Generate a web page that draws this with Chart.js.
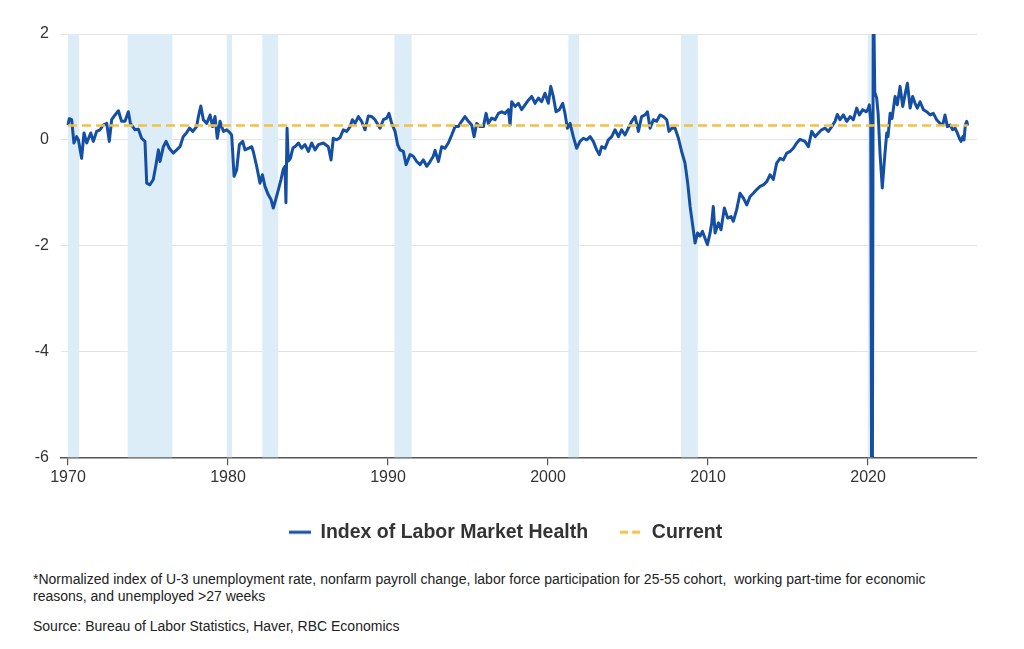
<!DOCTYPE html>
<html>
<head>
<meta charset="utf-8">
<script src="https://cdn.jsdelivr.net/npm/chart.js@4.4.1/dist/chart.umd.min.js"></script>
<style>
  html, body { margin: 0; padding: 0; background: #fff; }
  body { width: 1024px; height: 649px; position: relative; overflow: hidden; font-family: "Liberation Sans", Arial, sans-serif; }
  #wrap { position: absolute; left: 0; top: 0; width: 1024px; height: 560px; }
  .note { position: absolute; left: 33px; font-size: 14px; line-height: 17px; color: #222; white-space: nowrap; }
</style>
</head>
<body>
<div id="wrap"><canvas id="chart" width="1024" height="560"></canvas></div>
<div class="note" style="top:571px">*Normalized index of U-3 unemployment rate, nonfarm payroll change, labor force participation for 25-55 cohort,&nbsp; working part-time for economic<br>reasons, and unemployed &gt;27 weeks</div>
<div class="note" style="top:618px">Source: Bureau of Labor Statistics, Haver, RBC Economics</div>
<script>
// dates are decimal years
const dates70 = [1970.00,1970.08,1970.23,1970.37,1970.54,1970.65,1970.85,1971.00,1971.17,1971.42,1971.58,1971.79,1972.00,1972.20,1972.42,1972.58,1972.73,1972.94,1973.15,1973.35,1973.56,1973.77,1973.90,1974.19,1974.40,1974.60,1974.81,1974.92,1975.12,1975.33,1975.50,1975.65,1975.75,1975.96,1976.13,1976.33,1976.58,1976.79,1977.00,1977.20,1977.40,1977.60,1977.80,1978.04,1978.15,1978.30,1978.46,1978.67,1978.88,1979.04,1979.19,1979.33,1979.50,1979.71,1979.92];
const index70 = [0.28,0.40,0.38,-0.06,0.06,0.00,-0.35,0.13,-0.06,0.13,-0.03,0.16,0.19,0.28,0.31,-0.03,0.38,0.47,0.55,0.35,0.35,0.53,0.31,0.19,0.20,0.03,-0.03,-0.82,-0.85,-0.75,-0.47,-0.19,-0.41,-0.13,-0.03,-0.16,-0.25,-0.19,-0.13,0.06,0.13,0.22,0.16,0.25,0.44,0.64,0.38,0.31,0.47,0.25,0.44,0.03,0.35,0.16,0.19];

const dates80 = [1980.13,1980.23,1980.38,1980.54,1980.71,1980.92,1981.06,1981.27,1981.48,1981.58,1981.79,1982.00,1982.15,1982.31,1982.52,1982.69,1982.83,1982.98,1983.15,1983.31,1983.46,1983.56,1983.62,1983.69,1983.77,1983.90,1984.06,1984.19,1984.40,1984.60,1984.81,1985.02,1985.23,1985.44,1985.65,1985.96,1986.27,1986.44,1986.58,1986.79,1987.00,1987.21,1987.42,1987.63,1987.77,1987.94,1988.15,1988.35,1988.56,1988.77,1988.98,1989.19,1989.50,1989.71,1989.92];
const index80 = [0.13,0.09,-0.69,-0.57,-0.09,-0.03,-0.19,-0.16,-0.13,-0.22,-0.50,-0.82,-0.66,-0.88,-1.04,-1.13,-1.29,-1.13,-0.94,-0.75,-0.55,-0.50,-1.19,0.22,-0.40,-0.35,-0.15,-0.13,-0.06,-0.16,-0.09,-0.22,-0.06,-0.19,-0.09,-0.06,-0.13,-0.38,0.03,0.00,0.04,0.19,0.16,0.25,0.38,0.31,0.44,0.35,0.19,0.45,0.44,0.38,0.22,0.38,0.41];

const dates90 = [1990.06,1990.23,1990.44,1990.60,1990.75,1990.96,1991.13,1991.38,1991.58,1991.79,1992.00,1992.21,1992.42,1992.63,1992.83,1992.94,1993.15,1993.35,1993.56,1993.77,1993.98,1994.19,1994.40,1994.60,1994.81,1995.02,1995.23,1995.38,1995.54,1995.75,1995.96,1996.13,1996.27,1996.48,1996.69,1996.90,1997.10,1997.31,1997.52,1997.63,1997.73,1997.94,1998.15,1998.35,1998.56,1998.77,1998.98,1999.19,1999.40,1999.60,1999.81];
const index90 = [0.50,0.31,0.16,-0.09,-0.19,-0.22,-0.47,-0.28,-0.31,-0.41,-0.47,-0.38,-0.50,-0.41,-0.31,-0.20,-0.41,-0.13,-0.16,-0.06,0.09,0.25,0.25,0.35,0.44,0.35,0.28,0.06,0.31,0.25,0.25,0.50,0.31,0.41,0.38,0.50,0.53,0.50,0.57,0.28,0.72,0.63,0.69,0.57,0.66,0.75,0.82,0.69,0.79,0.72,0.88];

const dates00 = [2000.02,2000.17,2000.33,2000.50,2000.71,2000.92,2001.06,2001.21,2001.38,2001.58,2001.79,2002.00,2002.21,2002.42,2002.63,2002.83,2003.04,2003.21,2003.35,2003.56,2003.77,2003.98,2004.19,2004.40,2004.60,2004.81,2005.02,2005.23,2005.44,2005.65,2005.85,2006.06,2006.21,2006.38,2006.58,2006.79,2007.00,2007.21,2007.42,2007.56,2007.73,2007.94,2008.15,2008.35,2008.56,2008.73,2008.88,2009.02,2009.19,2009.35,2009.50,2009.65,2009.81,2009.96];
const index00 = [0.69,1.01,0.82,0.53,0.57,0.69,0.50,0.22,0.31,0.06,-0.16,-0.03,0.03,0.00,0.06,-0.03,-0.19,-0.28,-0.13,-0.16,0.00,0.06,0.19,0.06,0.19,0.09,0.22,0.35,0.44,0.16,0.44,0.47,0.53,0.22,0.38,0.35,0.47,0.44,0.38,0.16,0.22,0.22,0.03,-0.22,-0.44,-0.82,-1.26,-1.57,-1.95,-1.76,-1.82,-1.73,-1.86,-1.98];

const dates10 = [2010.13,2010.23,2010.33,2010.44,2010.65,2010.81,2011.02,2011.23,2011.44,2011.58,2011.79,2012.00,2012.21,2012.42,2012.63,2012.83,2013.04,2013.25,2013.46,2013.67,2013.88,2014.08,2014.29,2014.50,2014.71,2014.92,2015.13,2015.33,2015.54,2015.75,2016.06,2016.27,2016.48,2016.69,2016.90,2017.10,2017.31,2017.52,2017.73,2017.94,2018.08,2018.25,2018.46,2018.67,2018.88,2019.08,2019.29,2019.46,2019.67,2019.88];
const index10 = [-1.76,-1.57,-1.26,-1.76,-1.57,-1.70,-1.29,-1.48,-1.45,-1.54,-1.32,-1.01,-1.10,-1.23,-1.07,-1.01,-0.94,-0.88,-0.85,-0.79,-0.66,-0.75,-0.44,-0.35,-0.38,-0.25,-0.22,-0.16,-0.06,0.01,-0.03,-0.13,0.16,0.06,0.13,0.19,0.22,0.16,0.25,0.35,0.48,0.38,0.47,0.35,0.44,0.38,0.60,0.47,0.57,0.53];

const dates20 = [2020.00,2020.08,2020.17,2020.25,2020.33,2020.42,2020.54,2020.63,2020.75,2020.89,2021.06,2021.17,2021.25,2021.38,2021.50,2021.69,2021.83,2022.00,2022.17,2022.31,2022.46,2022.63,2022.79,2022.94,2023.08,2023.25,2023.46,2023.67,2023.88,2024.08,2024.29,2024.50,2024.67,2024.81,2024.96,2025.13,2025.29,2025.44,2025.58,2025.71,2025.81,2025.92,2026.00,2026.08,2026.17,2026.23];
const index20 = [0.58,0.66,0.35,-10.0,3.2,0.90,0.79,0.50,-0.25,-0.91,-0.25,0.13,0.06,0.50,0.40,0.82,0.66,1.01,0.63,0.85,1.07,0.60,0.82,0.69,0.60,0.72,0.57,0.53,0.47,0.50,0.38,0.31,0.28,0.47,0.25,0.28,0.19,0.22,0.13,0.03,-0.03,0.06,0.00,0.28,0.35,0.27];

// recession shading [start, end]
const recessions = [[1970.0,1970.7],[1973.73,1976.52],[1979.92,1980.25],[1982.14,1983.14],[1990.4,1991.48],[2001.27,2001.94],[2008.31,2009.36],[2019.98,2020.27]];
const xTicks = [1970,1980,1990,2000,2010,2020];
const yTicks = [-6,-4,-2,0,2];

const allDates = [].concat(dates70, dates80, dates90, dates00, dates10, dates20);
const allIndex = [].concat(index70, index80, index90, index00, index10, index20);
const healthPts = allDates.map((d, i) => ({x: d, y: allIndex[i]}));
const current = allIndex[allIndex.length - 1];
const currentPts = [{x: 1970, y: current}, {x: allDates[allDates.length - 1], y: current}];

const BLUE = '#144fa4';
const GOLD = '#f4c043';

function legendSwatch(color, dash) {
  const c = document.createElement('canvas');
  c.width = 22; c.height = 6;
  const g = c.getContext('2d');
  g.strokeStyle = color;
  g.lineWidth = 3;
  g.setLineDash(dash);
  g.beginPath(); g.moveTo(0, 3); g.lineTo(22, 3); g.stroke();
  return c;
}
const swatches = [legendSwatch(BLUE, []), legendSwatch(GOLD, [8, 4])];

const shading = {
  id: 'shading',
  beforeDatasetsDraw(chart) {
    const {ctx, chartArea, scales: {x}} = chart;
    ctx.save();
    ctx.fillStyle = '#ddedf8';
    recessions.forEach(r => {
      const a = Math.max(x.getPixelForValue(r[0]), chartArea.left);
      const b = Math.min(x.getPixelForValue(r[1]), chartArea.right);
      ctx.fillRect(a, chartArea.top, b - a, chartArea.bottom - chartArea.top);
    });
    ctx.restore();
  }
};

Chart.defaults.font.family = '"Liberation Sans", Arial, sans-serif';
Chart.defaults.color = '#333';

new Chart(document.getElementById('chart'), {
  type: 'line',
  data: {
    datasets: [{
      label: 'Index of Labor Market Health',
      data: healthPts,
      borderColor: BLUE,
      backgroundColor: BLUE,
      borderWidth: 3,
      borderJoinStyle: 'round',
      pointRadius: 0,
      tension: 0,
      order: 2
    }, {
      label: 'Current',
      data: currentPts,
      borderColor: GOLD,
      backgroundColor: GOLD,
      borderWidth: 2.6,
      borderDash: [9, 5],
      pointRadius: 0,
      order: 1
    }]
  },
  plugins: [shading],
  options: {
    responsive: false,
    animation: false,
    layout: {padding: {top: 34, left: 0, right: 13, bottom: 8}},
    scales: {
      x: {
        type: 'linear',
        min: 1969.5625,
        max: 2026.81,
        afterBuildTicks: s => { s.ticks = xTicks.map(v => ({value: v})); },
        ticks: {autoSkip: false, maxRotation: 0, padding: 3, font: {size: 16}, color: '#333', callback: v => String(v)},
        grid: {drawOnChartArea: false, drawTicks: true, tickLength: 8, color: '#555', lineWidth: 1.2},
        border: {display: true, color: '#555', width: 1.5}
      },
      y: {
        min: -6,
        max: 2,
        afterBuildTicks: s => { s.ticks = yTicks.map(v => ({value: v})); },
        afterFit: s => { s.width = 61; },
        ticks: {padding: 12, font: {size: 16}, color: '#333'},
        grid: {drawTicks: false, color: ctx => ctx.tick && ctx.tick.value === -6 ? 'rgba(0,0,0,0)' : '#e4e4e4', lineWidth: 1},
        border: {display: false}
      },
      pad: {
        position: 'right',
        afterFit: s => { s.width = 34; },
        ticks: {display: false},
        grid: {display: false},
        border: {display: false}
      }
    },
    plugins: {
      tooltip: {enabled: false},
      legend: {
        position: 'bottom',
        labels: {
          usePointStyle: true,
          pointStyleWidth: 22,
          padding: 32,
          color: '#333',
          font: {size: 19.5, weight: 'bold'},
          sort: (a, b) => a.datasetIndex - b.datasetIndex,
          generateLabels: chart => Chart.defaults.plugins.legend.labels.generateLabels(chart).map(it => {
            it.pointStyle = swatches[it.datasetIndex];
            return it;
          })
        }
      }
    }
  }
});
</script>
</body>
</html>
